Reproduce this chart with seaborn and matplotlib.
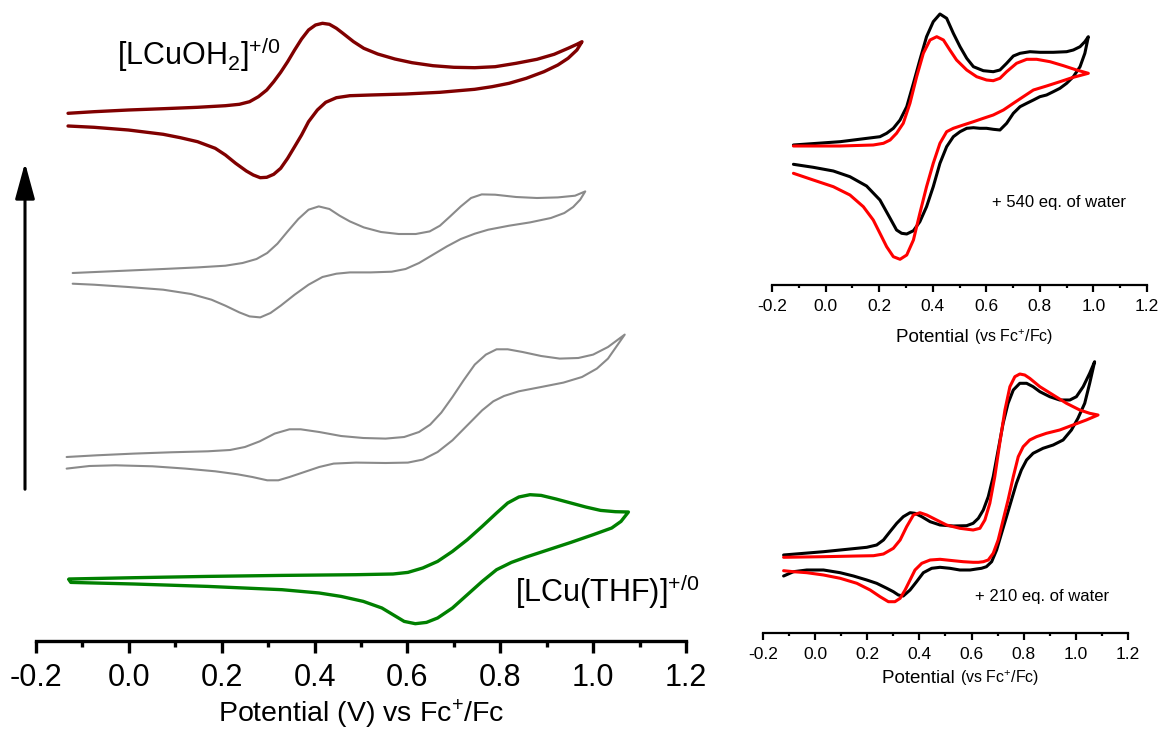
import numpy as np
import pandas as pd
import matplotlib
matplotlib.use("Agg")
import matplotlib.pyplot as plt
from matplotlib.patches import FancyArrowPatch
from matplotlib.ticker import MultipleLocator
import seaborn as sns

# ---------------- main panel: stacked voltammograms (potential in V, current in a.u.) ----------------
# [LCuOH2]+/0 (dark red)
ohw_fwd_E = [-0.131, -0.075, -0.001, 0.074, 0.148, 0.208, 0.238, 0.260, 0.279, 0.297, 0.312, 0.327,
             0.342, 0.357, 0.372, 0.387, 0.402, 0.417, 0.432, 0.447, 0.461, 0.484, 0.506, 0.536,
             0.573, 0.610, 0.655, 0.700, 0.745, 0.789, 0.834, 0.879, 0.916, 0.946, 0.965, 0.976]
ohw_fwd_I = [-0.03, 0.13, 0.30, 0.43, 0.57, 0.73, 0.87, 1.13, 1.63, 2.30, 3.13, 4.07,
             5.13, 6.30, 7.40, 8.30, 8.80, 8.97, 8.87, 8.47, 7.97, 7.13, 6.47, 5.90,
             5.40, 5.03, 4.73, 4.57, 4.53, 4.63, 4.97, 5.37, 5.87, 6.47, 6.87, 7.13]
ohw_rev_E = [0.976, 0.965, 0.946, 0.924, 0.894, 0.856, 0.819, 0.782, 0.745, 0.670, 0.596, 0.521,
             0.476, 0.447, 0.424, 0.406, 0.387, 0.372, 0.357, 0.342, 0.327, 0.312, 0.297, 0.283,
             0.268, 0.253, 0.230, 0.208, 0.186, 0.148, 0.111, 0.074, -0.001, -0.075, -0.131]
ohw_rev_I = [7.13, 6.30, 5.47, 4.80, 4.13, 3.47, 2.97, 2.63, 2.37, 2.07, 1.90, 1.80,
             1.73, 1.53, 1.07, 0.30, -0.87, -2.20, -3.37, -4.53, -5.53, -6.13, -6.43, -6.47,
             -6.20, -5.80, -5.03, -4.20, -3.53, -2.87, -2.47, -2.13, -1.70, -1.43, -1.30]

# intermediate trace (upper gray)
mid1_fwd_E = [-0.121, -0.038, 0.074, 0.148, 0.208, 0.245, 0.275, 0.298, 0.320, 0.342, 0.365, 0.387,
              0.409, 0.432, 0.454, 0.476, 0.506, 0.543, 0.581, 0.618, 0.648, 0.670, 0.692, 0.715,
              0.737, 0.760, 0.789, 0.834, 0.879, 0.924, 0.961, 0.983]
mid1_fwd_I = [0.0, 0.17, 0.40, 0.56, 0.73, 1.00, 1.40, 2.00, 2.93, 4.16, 5.40, 6.33,
              6.66, 6.40, 5.73, 5.16, 4.56, 4.10, 3.90, 3.90, 4.16, 4.73, 5.66, 6.66,
              7.50, 7.86, 7.83, 7.60, 7.50, 7.56, 7.73, 8.16]
mid1_rev_E = [0.983, 0.972, 0.957, 0.938, 0.909, 0.864, 0.819, 0.774, 0.745, 0.715, 0.685, 0.655,
              0.625, 0.596, 0.566, 0.521, 0.476, 0.447, 0.417, 0.387, 0.357, 0.327, 0.305, 0.283,
              0.260, 0.238, 0.208, 0.178, 0.134, 0.074, -0.001, -0.075, -0.121]
mid1_rev_I = [8.16, 7.33, 6.60, 6.00, 5.50, 5.06, 4.73, 4.33, 3.93, 3.40, 2.66, 1.83,
              1.00, 0.40, 0.13, 0.06, 0.06, -0.07, -0.40, -1.17, -2.17, -3.27, -4.00, -4.44,
              -4.34, -3.94, -3.27, -2.67, -2.10, -1.67, -1.40, -1.17, -1.07]

# intermediate trace (lower gray)
mid2_fwd_E = [-0.134, -0.069, 0.011, 0.090, 0.170, 0.218, 0.250, 0.282, 0.314, 0.346, 0.370, 0.410,
              0.457, 0.505, 0.553, 0.593, 0.625, 0.649, 0.673, 0.697, 0.721, 0.745, 0.769, 0.792,
              0.816, 0.848, 0.888, 0.928, 0.968, 1.000, 1.032, 1.068]
mid2_fwd_I = [0.0, 0.17, 0.34, 0.47, 0.57, 0.70, 1.00, 1.57, 2.34, 2.77, 2.77, 2.50,
              2.10, 1.90, 1.84, 2.00, 2.50, 3.24, 4.44, 6.00, 7.67, 9.24, 10.24, 10.77,
              10.77, 10.50, 10.10, 9.84, 9.90, 10.24, 11.00, 12.24]
mid2_rev_E = [1.068, 1.052, 1.032, 1.008, 0.976, 0.936, 0.888, 0.840, 0.808, 0.785, 0.761, 0.729,
              0.697, 0.665, 0.633, 0.601, 0.553, 0.489, 0.441, 0.410, 0.378, 0.346, 0.322, 0.298,
              0.266, 0.234, 0.186, 0.122, 0.051, -0.029, -0.085, -0.134]
mid2_rev_I = [12.24, 11.17, 9.84, 8.84, 8.00, 7.44, 7.00, 6.57, 6.10, 5.57, 4.67, 3.17,
              1.67, 0.50, -0.26, -0.56, -0.60, -0.56, -0.66, -1.00, -1.50, -2.00, -2.33, -2.33,
              -2.00, -1.73, -1.43, -1.16, -0.93, -0.83, -0.90, -1.16]

# [LCu(THF)]+/0 (green)
thf_fwd_E = [-0.129, 0.011, 0.170, 0.330, 0.489, 0.569, 0.601, 0.633, 0.665, 0.697, 0.729, 0.761,
             0.792, 0.816, 0.840, 0.864, 0.888, 0.920, 0.952, 0.984, 1.016, 1.048, 1.076]
thf_fwd_I = [0.0, 0.13, 0.26, 0.36, 0.43, 0.50, 0.66, 1.10, 1.76, 2.76, 3.93, 5.26,
             6.60, 7.60, 8.20, 8.43, 8.36, 8.00, 7.60, 7.20, 6.86, 6.73, 6.70]
thf_rev_E = [1.076, 1.060, 1.040, 1.000, 0.952, 0.904, 0.856, 0.824, 0.792, 0.761, 0.729, 0.697,
             0.665, 0.641, 0.617, 0.593, 0.569, 0.545, 0.505, 0.457, 0.410, 0.330, 0.170, 0.011,
             -0.125, -0.129]
thf_rev_I = [6.70, 5.76, 5.10, 4.43, 3.66, 2.93, 2.20, 1.66, 0.93, -0.24, -1.57, -2.90,
             -3.90, -4.34, -4.47, -4.24, -3.57, -2.90, -2.24, -1.74, -1.40, -1.07, -0.74, -0.50,
             -0.34, -0.07]

stack_offsets = [52.8, 36.8, 18.4, 6.2]
stack_colors = ["#800000", "#8a8a8a", "#8a8a8a", "#008000"]
stack_widths = [2.4, 1.5, 1.5, 2.4]

# ---------------- right panels: +540 eq. and +210 eq. of water ----------------
w540_black_fwd_E = [-0.120, 0.054, 0.203, 0.228, 0.253, 0.278, 0.303, 0.328, 0.352, 0.377, 0.402, 0.427,
                    0.452, 0.477, 0.502, 0.527, 0.552, 0.589, 0.626, 0.651, 0.676, 0.701, 0.726, 0.763,
                    0.800, 0.850, 0.900, 0.925, 0.950, 0.968, 0.981]
w540_black_fwd_I = [0.0, 0.33, 0.83, 1.17, 1.67, 2.5, 3.83, 6.17, 8.5, 10.83, 12.33, 13.1,
                    12.67, 11.17, 9.83, 8.67, 7.83, 7.43, 7.33, 7.5, 8.17, 8.9, 9.17, 9.33,
                    9.27, 9.27, 9.33, 9.5, 9.83, 10.33, 10.83]
w540_black_rev_E = [0.981, 0.968, 0.950, 0.925, 0.900, 0.875, 0.850, 0.825, 0.800, 0.776, 0.751, 0.726,
                    0.701, 0.676, 0.651, 0.626, 0.601, 0.576, 0.552, 0.527, 0.502, 0.477, 0.452, 0.427,
                    0.402, 0.377, 0.352, 0.328, 0.303, 0.284, 0.265, 0.241, 0.203, 0.153, 0.091, 0.029,
                    -0.046, -0.120]
w540_black_rev_I = [10.83, 9.17, 7.83, 6.83, 6.17, 5.67, 5.33, 5.0, 4.83, 4.5, 4.17, 3.83,
                    3.17, 2.17, 1.5, 1.57, 1.67, 1.67, 1.73, 1.67, 1.33, 0.83, -0.17, -1.83,
                    -4.17, -6.17, -7.67, -8.57, -8.9, -8.83, -8.5, -7.33, -5.5, -4.1, -3.17, -2.6,
                    -2.23, -1.93]
w540_red_fwd_E = [-0.120, 0.054, 0.178, 0.216, 0.241, 0.265, 0.290, 0.315, 0.340, 0.365, 0.390, 0.415,
                  0.440, 0.464, 0.489, 0.527, 0.564, 0.601, 0.626, 0.651, 0.676, 0.713, 0.751, 0.788,
                  0.838, 0.888, 0.937, 0.981]
w540_red_fwd_I = [-0.1, -0.1, 0.0, 0.17, 0.5, 1.17, 2.17, 4.17, 6.83, 9.17, 10.5, 10.83,
                  10.5, 9.5, 8.5, 7.5, 6.83, 6.5, 6.43, 6.67, 7.33, 8.17, 8.57, 8.57,
                  8.33, 7.93, 7.5, 7.17]
w540_red_rev_E = [0.981, 0.925, 0.875, 0.825, 0.776, 0.738, 0.701, 0.664, 0.626, 0.589, 0.552, 0.514,
                  0.477, 0.452, 0.427, 0.402, 0.377, 0.352, 0.328, 0.303, 0.278, 0.253, 0.228, 0.203,
                  0.178, 0.141, 0.091, 0.029, -0.046, -0.120]
w540_red_rev_I = [7.17, 6.77, 6.33, 5.9, 5.5, 4.83, 4.17, 3.5, 3.0, 2.67, 2.33, 2.0,
                  1.67, 1.33, 0.17, -1.83, -4.17, -6.83, -9.5, -11.0, -11.43, -11.17, -10.17, -8.83,
                  -7.5, -6.17, -5.0, -4.17, -3.5, -2.83]

w210_black_fwd_E = [-0.121, 0.032, 0.134, 0.198, 0.236, 0.262, 0.287, 0.313, 0.338, 0.364, 0.383, 0.409,
                    0.441, 0.479, 0.530, 0.581, 0.606, 0.626, 0.645, 0.664, 0.683, 0.702, 0.721, 0.740,
                    0.760, 0.785, 0.811, 0.836, 0.862, 0.900, 0.938, 0.977, 1.002, 1.028, 1.053, 1.072]
w210_black_fwd_I = [0.0, 0.33, 0.6, 0.77, 1.0, 1.5, 2.33, 3.17, 3.83, 4.23, 4.17, 3.83,
                    3.33, 3.0, 2.9, 2.93, 3.17, 3.67, 4.5, 5.83, 7.83, 10.5, 13.17, 15.17,
                    16.5, 17.17, 17.17, 16.83, 16.33, 15.83, 15.5, 15.5, 15.83, 16.83, 18.17, 19.33]
w210_black_rev_E = [1.072, 1.053, 1.034, 1.008, 0.983, 0.951, 0.913, 0.874, 0.836, 0.811, 0.791, 0.772,
                    0.753, 0.734, 0.715, 0.696, 0.677, 0.657, 0.638, 0.619, 0.594, 0.555, 0.517, 0.479,
                    0.447, 0.415, 0.389, 0.364, 0.338, 0.319, 0.300, 0.275, 0.236, 0.198, 0.147, 0.096,
                    0.032, -0.032, -0.083, -0.121]
w210_black_rev_I = [19.33, 17.17, 15.17, 13.67, 12.5, 11.5, 11.0, 10.67, 10.17, 9.5, 8.5, 7.17,
                    5.5, 3.83, 2.17, 0.5, -0.67, -1.17, -1.33, -1.4, -1.5, -1.5, -1.33, -1.23,
                    -1.33, -1.77, -2.67, -3.5, -4.1, -4.0, -3.67, -3.33, -2.83, -2.5, -2.1, -1.77,
                    -1.5, -1.5, -1.67, -2.1]
w210_red_fwd_E = [-0.121, 0.032, 0.160, 0.224, 0.262, 0.300, 0.326, 0.351, 0.377, 0.402, 0.428, 0.466,
                  0.504, 0.555, 0.606, 0.632, 0.651, 0.670, 0.689, 0.708, 0.728, 0.747, 0.766, 0.785,
                  0.804, 0.823, 0.862, 0.913, 0.964, 1.015, 1.053, 1.085]
w210_red_fwd_I = [-0.23, -0.17, -0.1, -0.07, 0.1, 0.67, 1.5, 2.83, 4.0, 4.23, 4.0, 3.5,
                  3.0, 2.67, 2.5, 2.67, 3.5, 5.17, 7.83, 11.17, 14.5, 16.83, 17.83, 18.1,
                  18.0, 17.67, 16.83, 16.0, 15.17, 14.5, 14.17, 14.0]
w210_red_rev_E = [1.085, 1.040, 0.989, 0.938, 0.887, 0.849, 0.823, 0.798, 0.779, 0.760, 0.740, 0.721,
                  0.702, 0.683, 0.664, 0.645, 0.626, 0.606, 0.568, 0.530, 0.479, 0.441, 0.409, 0.383,
                  0.364, 0.345, 0.326, 0.306, 0.281, 0.249, 0.211, 0.160, 0.096, 0.032, -0.032, -0.083,
                  -0.121]
w210_red_rev_I = [14.0, 13.5, 13.0, 12.5, 12.17, 11.83, 11.5, 10.83, 9.83, 7.83, 5.5, 3.5,
                  1.5, 0.17, -0.5, -0.67, -0.73, -0.73, -0.67, -0.57, -0.43, -0.5, -0.83, -1.5,
                  -2.5, -3.5, -4.33, -4.67, -4.67, -4.17, -3.5, -2.83, -2.33, -2.0, -1.77, -1.67,
                  -1.57]

x_ticks = [-0.2, 0.0, 0.2, 0.4, 0.6, 0.8, 1.0, 1.2]
x_ticklabels = ["-0.2", "0.0", "0.2", "0.4", "0.6", "0.8", "1.0", "1.2"]

# ---------------- styling ----------------
sns.set_theme(style="white")
FAMILY = ["Liberation Sans", "DejaVu Sans"]
plt.rcParams["font.family"] = FAMILY
plt.rcParams["mathtext.fontset"] = "custom"
plt.rcParams["mathtext.rm"] = "Liberation Sans"
plt.rcParams["mathtext.it"] = "Liberation Sans"
plt.rcParams["mathtext.sf"] = "Liberation Sans"
plt.rcParams["text.color"] = "black"


def loop_frame(fwd_E, fwd_I, rev_E, rev_I, offset=0.0):
    E = np.concatenate([fwd_E, rev_E])
    I = np.concatenate([fwd_I, rev_I]) + offset
    return pd.DataFrame({"E": E, "I": I})


def draw_loop(ax, frame, color, lw):
    sns.lineplot(data=frame, x="E", y="I", sort=False, estimator=None, ax=ax,
                 color=color, linewidth=lw, solid_joinstyle="round", solid_capstyle="round")


def style_axis(ax, major_len, minor_len, width, labelsize, pad):
    for side in ("left", "right", "top"):
        ax.spines[side].set_visible(False)
    ax.spines["bottom"].set_linewidth(width)
    ax.spines["bottom"].set_color("black")
    ax.set_xlim(-0.2, 1.2)
    ax.set_xticks(x_ticks)
    ax.set_xticklabels(x_ticklabels)
    ax.xaxis.set_minor_locator(MultipleLocator(0.1))
    ax.tick_params(axis="x", which="major", direction="out", length=major_len, width=width,
                   labelsize=labelsize, pad=pad, color="black", labelcolor="black", bottom=True)
    ax.tick_params(axis="x", which="minor", direction="out", length=minor_len, width=width,
                   color="black", bottom=True)
    ax.set_yticks([])
    ax.set_xlabel("")
    ax.set_ylabel("")
    ax.set_facecolor("none")


W, H = 1162, 731
fig = plt.figure(figsize=(W / 100, H / 100), dpi=100)


def axes_px(left, right, bottom, top):
    return fig.add_axes([left / W, 1 - bottom / H, (right - left) / W, (bottom - top) / H])


def fig_xy(px, py):
    return px / W, 1 - py / H


# main panel
ax = axes_px(36, 686, 641, 0)
traces = [
    (ohw_fwd_E, ohw_fwd_I, ohw_rev_E, ohw_rev_I),
    (mid1_fwd_E, mid1_fwd_I, mid1_rev_E, mid1_rev_I),
    (mid2_fwd_E, mid2_fwd_I, mid2_rev_E, mid2_rev_I),
    (thf_fwd_E, thf_fwd_I, thf_rev_E, thf_rev_I),
]
for (fe, fi, re_, ri), off, col, lw in zip(traces, stack_offsets, stack_colors, stack_widths):
    draw_loop(ax, loop_frame(fe, fi, re_, ri, off), col, lw)
ax.set_ylim(0, 64.1)
style_axis(ax, 8.5, 4.5, 2.4, 22, 7)
ax.set_xlabel("Potential (V) vs Fc$^{+}$/Fc", fontsize=20.5, color="black")
ax.xaxis.set_label_coords(0.5, -0.089)
ax.text(-0.026, 57.6, "[LCuOH$_2$]$^{+/0}$", fontsize=22, ha="left", va="baseline")
ax.text(0.832, 3.9, "[LCu(THF)]$^{+/0}$", fontsize=22, ha="left", va="baseline")

# arrow showing the order of the traces
fig.add_artist(FancyArrowPatch(
    fig_xy(25, 492), fig_xy(25, 160), transform=fig.transFigure,
    arrowstyle="-|>,head_length=1.1,head_width=0.3", mutation_scale=20,
    linewidth=2.2, color="black"))

renderer = fig.canvas.get_renderer()


def panel_label(px, py):
    # "Potential" in the larger size, the reference electrode part slightly smaller, same baseline
    t1 = fig.text(*fig_xy(px, py), "Potential ", fontsize=13.5, ha="left", va="baseline")
    x_end = t1.get_window_extent(renderer).x1
    fig.text(x_end / W, 1 - py / H, "(vs Fc$^{+}$/Fc)", fontsize=11.5, ha="left", va="baseline")


# right panels
ax_top = axes_px(772, 1147, 285, 0)
draw_loop(ax_top, loop_frame(w540_black_fwd_E, w540_black_fwd_I, w540_black_rev_E, w540_black_rev_I), "black", 2.2)
draw_loop(ax_top, loop_frame(w540_red_fwd_E, w540_red_fwd_I, w540_red_rev_E, w540_red_rev_I), "#ff0000", 2.2)
ax_top.set_ylim(-14.0, 14.5)
style_axis(ax_top, 5, 2.5, 1.6, 12.5, 5)
ax_top.text(0.621, -5.7, "+ 540 eq. of water", fontsize=12, ha="left", va="center")

ax_bot = axes_px(763, 1128, 633, 350)
draw_loop(ax_bot, loop_frame(w210_black_fwd_E, w210_black_fwd_I, w210_black_rev_E, w210_black_rev_I), "black", 2.2)
draw_loop(ax_bot, loop_frame(w210_red_fwd_E, w210_red_fwd_I, w210_red_rev_E, w210_red_rev_I), "#ff0000", 2.2)
ax_bot.set_ylim(-7.8, 20.5)
style_axis(ax_bot, 5, 2.5, 1.6, 12.5, 5)
ax_bot.text(0.613, -4.1, "+ 210 eq. of water", fontsize=12, ha="left", va="center")

panel_label(896, 342)
panel_label(882, 683)

fig.savefig("out.png", dpi=100, facecolor="white")
